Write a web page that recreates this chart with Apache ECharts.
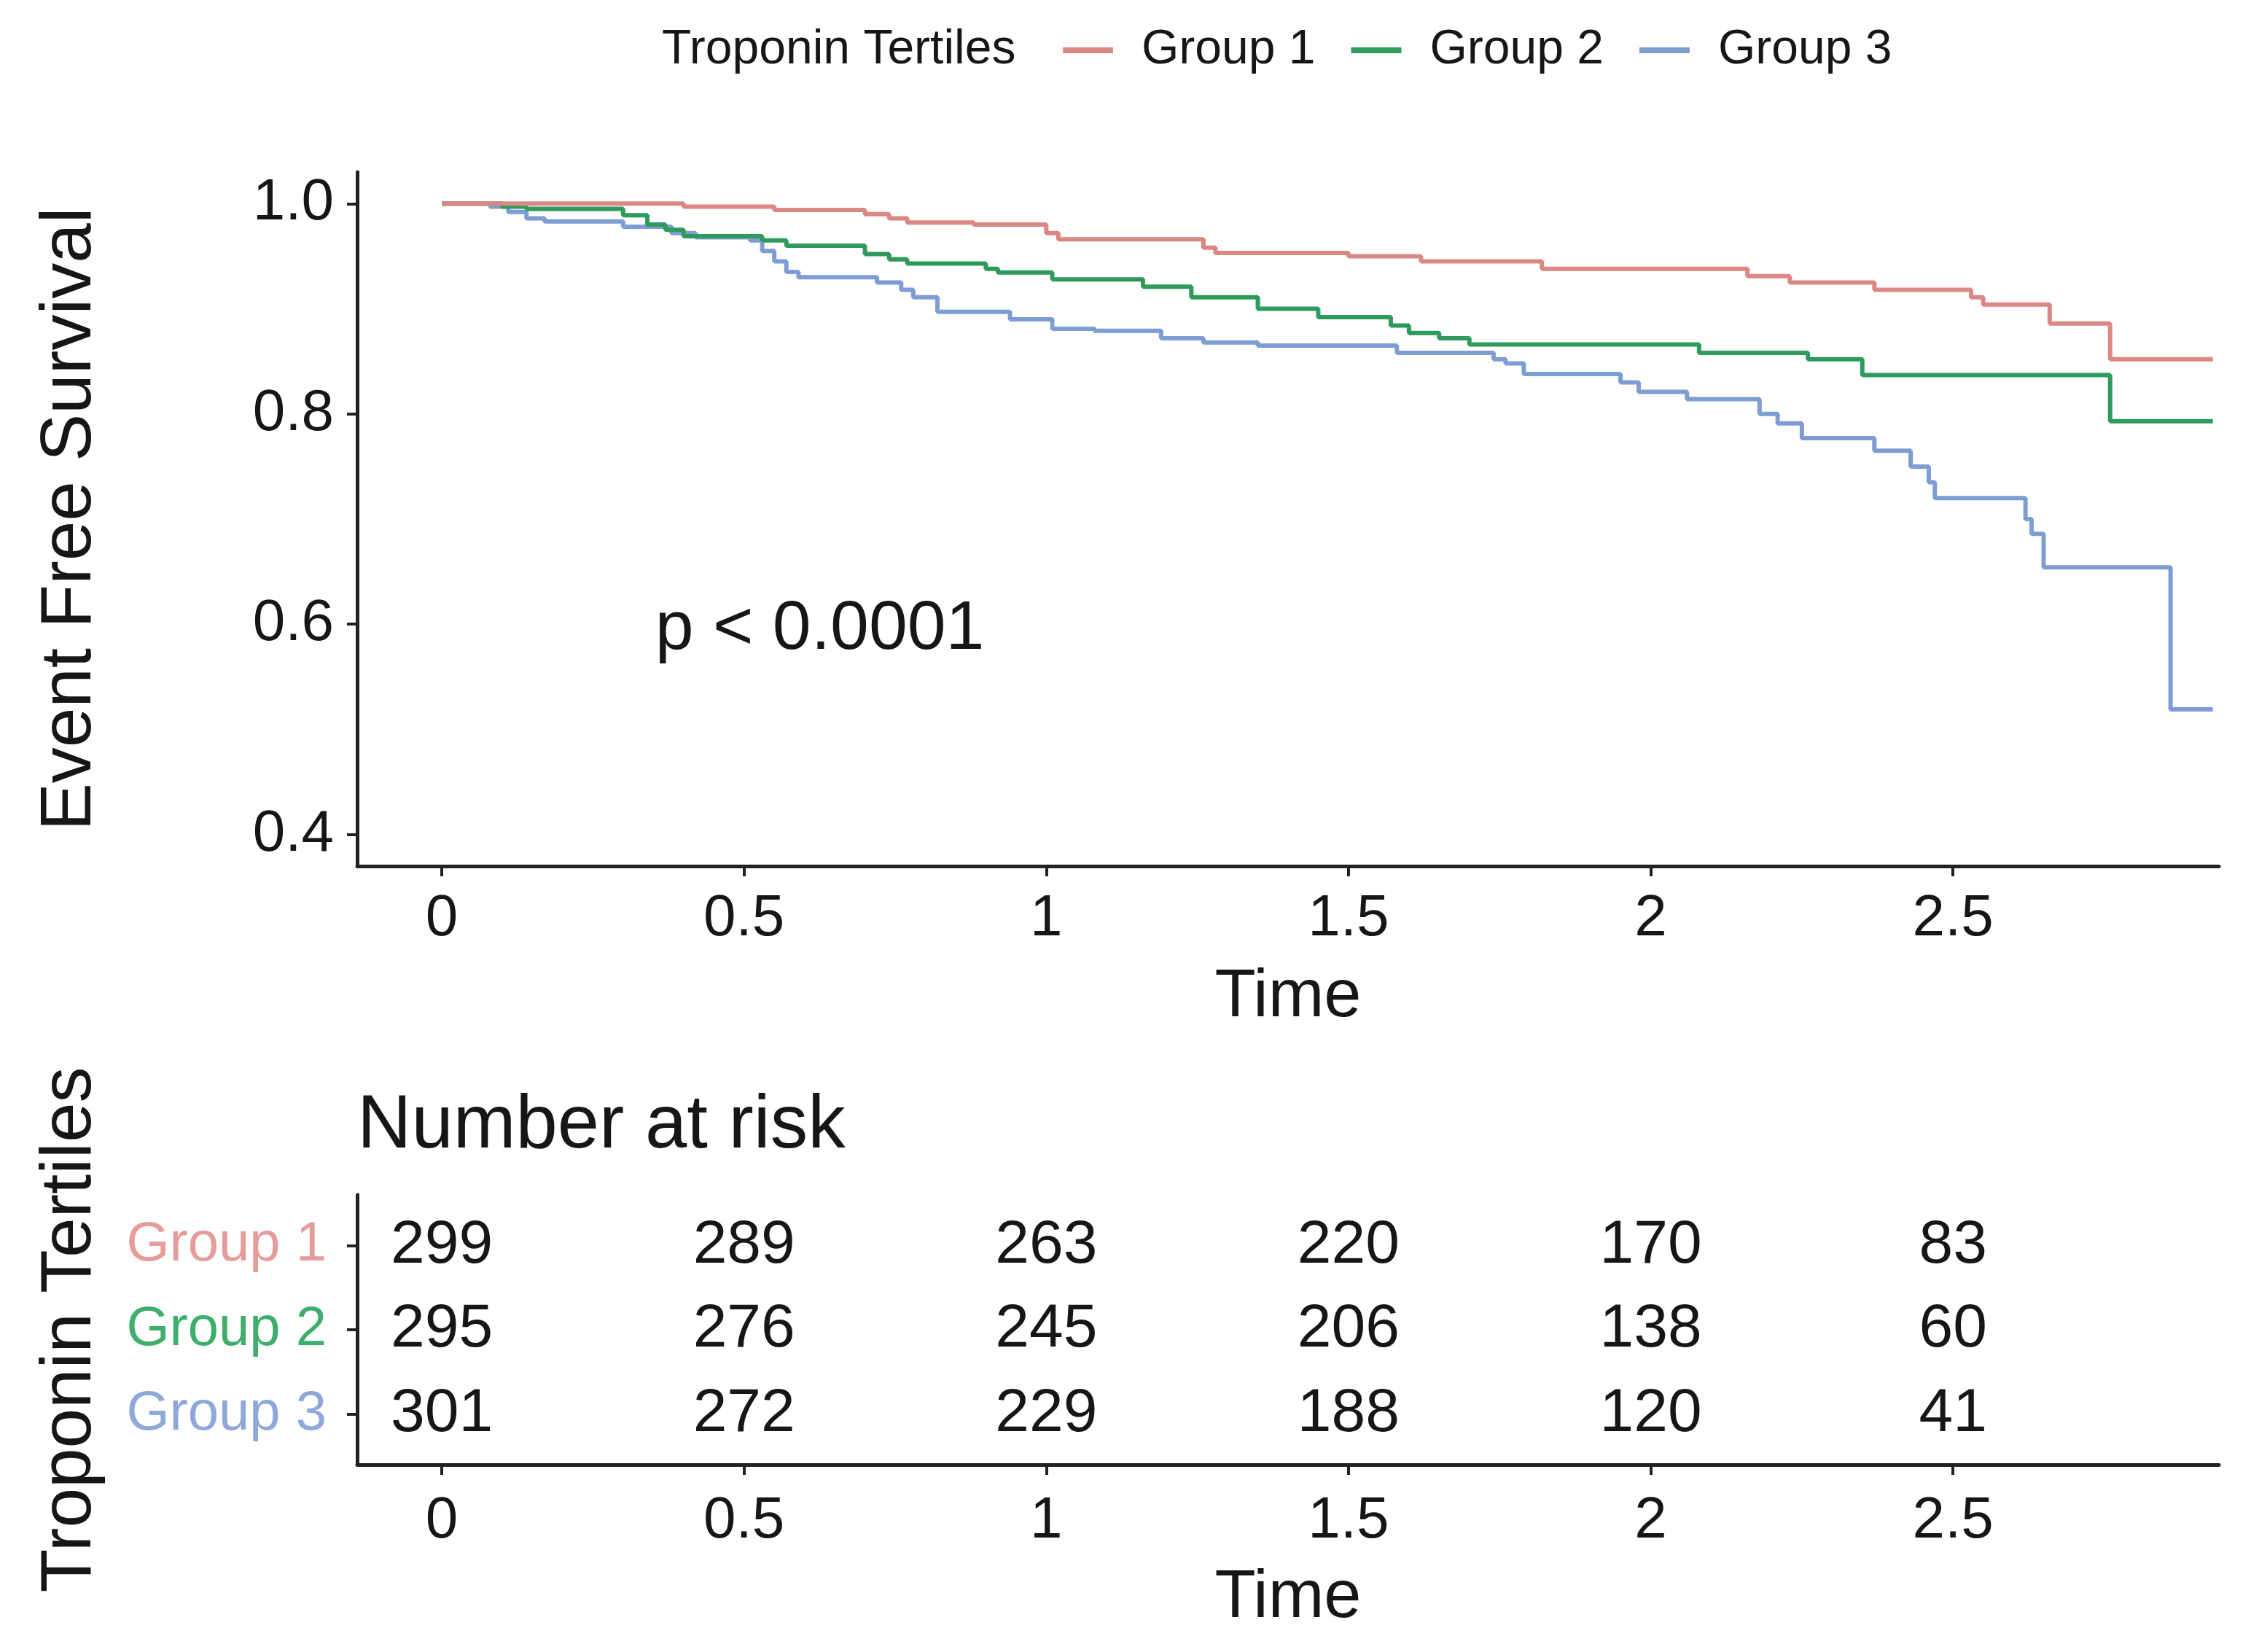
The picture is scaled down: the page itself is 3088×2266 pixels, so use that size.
<!DOCTYPE html>
<html>
<head>
<meta charset="utf-8">
<script src="https://cdn.jsdelivr.net/npm/echarts@6/dist/echarts.min.js"></script>
<style>
html,body{margin:0;padding:0;background:#fff;}
#chart{width:3088px;height:2266px;}
</style>
</head>
<body>
<div id="chart"></div>
<script>
// ---------- data ----------
const groupNames = ['Group 1', 'Group 2', 'Group 3'];
const timeTicks = [0, 0.5, 1, 1.5, 2, 2.5];
const survTicks = [0.4, 0.6, 0.8, 1.0];

const survGroup1 = [
  [0,1],[0.40,0.997],[0.55,0.994],[0.70,0.990],[0.74,0.986],[0.77,0.982],[0.88,0.980],
  [1.00,0.972],[1.02,0.966],[1.26,0.958],[1.28,0.953],[1.50,0.950],[1.62,0.945],[1.82,0.938],
  [2.16,0.931],[2.23,0.925],[2.37,0.918],[2.53,0.911],[2.55,0.904],[2.66,0.886],[2.76,0.852],[2.93,0.852]
];
const survGroup2 = [
  [0,1],[0.10,0.997],[0.14,0.995],[0.30,0.989],[0.34,0.980],[0.37,0.975],[0.40,0.969],
  [0.53,0.965],[0.57,0.960],[0.70,0.952],[0.74,0.947],[0.77,0.943],[0.90,0.938],[0.92,0.9345],
  [1.01,0.928],[1.16,0.921],[1.24,0.911],[1.35,0.900],[1.45,0.892],[1.57,0.884],[1.60,0.877],
  [1.65,0.872],[1.70,0.866],[2.08,0.858],[2.26,0.852],[2.35,0.837],[2.76,0.793],[2.93,0.793]
];
const survGroup3 = [
  [0,1],[0.08,0.997],[0.11,0.992],[0.14,0.986],[0.17,0.983],[0.30,0.978],[0.38,0.972],[0.42,0.968],
  [0.51,0.965],[0.53,0.955],[0.55,0.945],[0.57,0.935],[0.59,0.930],[0.72,0.925],[0.76,0.918],
  [0.78,0.911],[0.82,0.897],[0.94,0.890],[1.01,0.881],[1.08,0.879],[1.19,0.872],[1.26,0.868],
  [1.35,0.865],[1.58,0.858],[1.74,0.852],[1.76,0.848],[1.79,0.838],[1.95,0.830],[1.98,0.821],
  [2.06,0.814],[2.18,0.800],[2.21,0.791],[2.25,0.777],[2.37,0.765],[2.43,0.750],[2.46,0.735],
  [2.47,0.720],[2.62,0.700],[2.63,0.686],[2.65,0.654],[2.86,0.519],[2.93,0.519]
];

const riskGroup1 = [299, 289, 263, 220, 170, 83];
const riskGroup2 = [295, 276, 245, 206, 138, 60];
const riskGroup3 = [301, 272, 229, 188, 120, 41];

const pValueText = 'p < 0.0001';
const pValuePos = [0.353, 0.595];

// ---------- styling ----------
const FONT = '"Liberation Sans", Arial, sans-serif';
const TXT = '#161616';
const lineColors = ['#DB8783', '#2E9A5C', '#7D9DD3'];
const labelColors = ['#E59C9A', '#3DAE6B', '#8EA8DA'];
const AXL = { color: '#222', width: 5 };
const TICK = { show: true, length: 14, lineStyle: { color: '#222', width: 4 } };

const survSeries = [survGroup1, survGroup2, survGroup3].map((d, i) => ({
  name: groupNames[i],
  type: 'line',
  step: 'end',
  xAxisIndex: 0, yAxisIndex: 0,
  data: d,
  symbol: 'none',
  lineStyle: { color: lineColors[i], width: 6 },
  itemStyle: { color: lineColors[i] },
  z: 3 - i
}));

const riskData = [];
[riskGroup1, riskGroup2, riskGroup3].forEach((arr, gi) => {
  arr.forEach((n, ti) => riskData.push([timeTicks[ti], gi + 1, n]));
});

const chart = echarts.init(document.getElementById('chart'), null, { renderer: 'canvas' });

const textLabelSeriesBase = {
  type: 'scatter', symbolSize: 0.1, silent: true,
  itemStyle: { color: 'rgba(0,0,0,0)', opacity: 1 },
  emphasis: { disabled: true }
};

const option = {
  animation: false,
  backgroundColor: '#ffffff',
  textStyle: { fontFamily: FONT },
  title: [
    { text: 'Troponin Tertiles', left: 908, top: 36, padding: 0,
      textStyle: { fontSize: 66, fontWeight: 'normal', color: TXT, fontFamily: FONT } },
    { text: 'Number at risk', left: 490, top: 1494, padding: 0,
      textStyle: { fontSize: 103, fontWeight: 'normal', color: TXT, fontFamily: FONT } }
  ],
  legend: {
    data: groupNames,
    left: 1458, top: 36, padding: 0,
    icon: 'rect',
    itemWidth: 69, itemHeight: 8, itemGap: 49,
    textStyle: { fontSize: 66, color: TXT, fontFamily: FONT, padding: [0, 0, 0, 34] }
  },
  grid: [
    { left: 490, right: 44, top: 236, height: 952, containLabel: false },
    { left: 490, right: 44, top: 1639, height: 370, containLabel: false }
  ],
  xAxis: [
    { type: 'value', gridIndex: 0, min: -0.14, max: 2.94,
      name: 'Time', nameLocation: 'middle', nameGap: 135,
      nameTextStyle: { fontSize: 92, color: TXT, fontFamily: FONT },
      axisLine: { show: true, onZero: false, lineStyle: AXL },
      axisTick: Object.assign({ customValues: timeTicks }, TICK),
      splitLine: { show: false },
      axisLabel: { customValues: timeTicks, fontSize: 80, color: TXT, margin: 33, fontFamily: FONT,
        formatter: v => String(v) } },
    { type: 'value', gridIndex: 1, min: -0.14, max: 2.94,
      name: 'Time', nameLocation: 'middle', nameGap: 138,
      nameTextStyle: { fontSize: 92, color: TXT, fontFamily: FONT },
      axisLine: { show: true, onZero: false, lineStyle: AXL },
      axisTick: Object.assign({ customValues: timeTicks }, TICK),
      splitLine: { show: false },
      axisLabel: { customValues: timeTicks, fontSize: 80, color: TXT, margin: 38, fontFamily: FONT,
        formatter: v => String(v) } }
  ],
  yAxis: [
    { type: 'value', gridIndex: 0, min: 0.37, max: 1.03,
      name: 'Event Free Survival', nameLocation: 'middle', nameGap: 344,
      nameTextStyle: { fontSize: 98, color: TXT, fontFamily: FONT },
      axisLine: { show: true, onZero: false, lineStyle: AXL },
      axisTick: Object.assign({ customValues: survTicks }, TICK),
      splitLine: { show: false },
      axisLabel: { customValues: survTicks, fontSize: 80, color: TXT, margin: 32, fontFamily: FONT,
        formatter: v => v.toFixed(1) } },
    { type: 'value', gridIndex: 1, min: 0.4, max: 3.6, inverse: true,
      name: 'Troponin Tertiles', nameLocation: 'middle', nameGap: 344,
      nameTextStyle: { fontSize: 98, color: TXT, fontFamily: FONT },
      axisLine: { show: true, onZero: false, lineStyle: AXL },
      axisTick: Object.assign({ customValues: [1, 2, 3] }, TICK),
      splitLine: { show: false },
      axisLabel: { customValues: [1, 2, 3], margin: 42, fontFamily: FONT,
        formatter: v => '{g' + v + '|' + groupNames[v - 1] + '}',
        rich: {
          g1: { fontSize: 76, color: labelColors[0], fontFamily: FONT },
          g2: { fontSize: 76, color: labelColors[1], fontFamily: FONT },
          g3: { fontSize: 76, color: labelColors[2], fontFamily: FONT }
        } } }
  ],
  series: survSeries.concat([
    Object.assign({}, textLabelSeriesBase, {
      xAxisIndex: 0, yAxisIndex: 0, data: [pValuePos],
      label: { show: true, position: [0, 0], align: 'left', verticalAlign: 'middle', opacity: 1,
        formatter: pValueText, fontSize: 95, color: TXT, fontFamily: FONT } }),
    Object.assign({}, textLabelSeriesBase, {
      xAxisIndex: 1, yAxisIndex: 1, data: riskData,
      label: { show: true, position: 'inside', opacity: 1, formatter: p => String(p.value[2]),
        fontSize: 84, color: TXT, fontFamily: FONT } })
  ])
};
chart.setOption(option);
</script>
</body>
</html>
